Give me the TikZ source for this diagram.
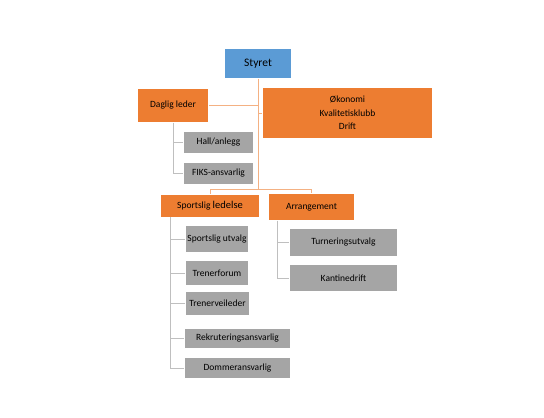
\documentclass[tikz,border=0pt]{standalone}
\usepackage{fontspec}
\setmainfont{Carlito}
\definecolor{BoardClr}{RGB}{91,155,213}
\definecolor{OrangeClr}{RGB}{237,125,49}
\definecolor{GreyClr}{RGB}{165,165,165}
\definecolor{OLineClr}{RGB}{244,177,131}
\definecolor{GLineClr}{RGB}{191,191,191}
\tikzset{
  box/.style={draw=white,line width=0.6pt,inner sep=1pt,font=\fontsize{9.5}{11.5}\selectfont},
  orgbox/.style={box,fill=OrangeClr},
  greybox/.style={box,fill=GreyClr},
  oline/.style={draw=OLineClr,line width=0.8pt},
  gline/.style={draw=GLineClr,line width=0.8pt}
}

\begin{document}
\begin{tikzpicture}[x=1pt,y=-1pt]
\useasboundingbox[fill=white] (0,0) rectangle (544,418);

% top
\node[box,fill=BoardClr,minimum width=67pt,minimum height=30pt,font=\fontsize{11.5}{13}\selectfont] (styret) at (258,63.5) {Styret};
\node[orgbox,minimum width=71pt,minimum height=34pt] (daglig) at (173,105.5) {Daglig leder};
\node[orgbox,minimum width=170pt,minimum height=51pt,align=center] (okonomi) at (347.5,113) {Økonomi\\[2pt]Kvalitetisklubb\\[2pt]Drift};

% under daglig leder
\node[greybox,minimum width=70pt,minimum height=22pt] (hall) at (218.5,142.5) {Hall/anlegg};
\node[greybox,minimum width=70pt,minimum height=22pt] (fiks) at (218.5,173.5) {FIKS-ansvarlig};

% second level
\node[orgbox,minimum width=99pt,minimum height=23pt] (sport) at (210,205.5) {Sportslig {\fontsize{10.5}{12}\selectfont ledelse}};
\node[orgbox,minimum width=86pt,minimum height=27pt] (arr) at (311.5,207) {Arrangement};

\node[greybox,minimum width=63pt,minimum height=27pt] (sutv) at (217,239) {Sportslig utvalg};
\node[greybox,minimum width=63pt,minimum height=25pt] (tforum) at (217,273) {Trenerforum};
\node[greybox,minimum width=64pt,minimum height=24pt] (tveil) at (217.5,303.5) {Trenerveileder};
\node[greybox,minimum width=106pt,minimum height=20pt] (rekr) at (237.5,338.5) {Rekruteringsansvarlig};
\node[greybox,minimum width=106pt,minimum height=21pt] (domm) at (237.5,368) {Dommeransvarlig};

\node[greybox,minimum width=108pt,minimum height=28pt] (turn) at (343.5,242.5) {Turneringsutvalg};
\node[greybox,minimum width=108pt,minimum height=27pt] (kant) at (343.5,278) {Kantinedrift};

% lines
\coordinate (split) at (258,189);
\draw[oline] (styret.south) |- (daglig.east);
\draw[oline] (styret.south) |- (okonomi.west);
\draw[oline] (styret.south) -- (split);
\draw[oline] (split) -| (sport.north);
\draw[oline] (split) -| (arr.north);

\draw[gline] (daglig.south) |- (hall.west);
\draw[gline] (daglig.south) |- (fiks.west);

\draw[gline] ([xshift=10pt]sport.south west) |- (sutv.west);
\draw[gline] ([xshift=10pt]sport.south west) |- (tforum.west);
\draw[gline] ([xshift=10pt]sport.south west) |- (tveil.west);
\draw[gline] ([xshift=10pt]sport.south west) |- (rekr.west);
\draw[gline] ([xshift=10pt]sport.south west) |- (domm.west);

\draw[gline] ([xshift=9pt]arr.south west) |- (turn.west);
\draw[gline] ([xshift=9pt]arr.south west) |- (kant.west);
\end{tikzpicture}
\end{document}
